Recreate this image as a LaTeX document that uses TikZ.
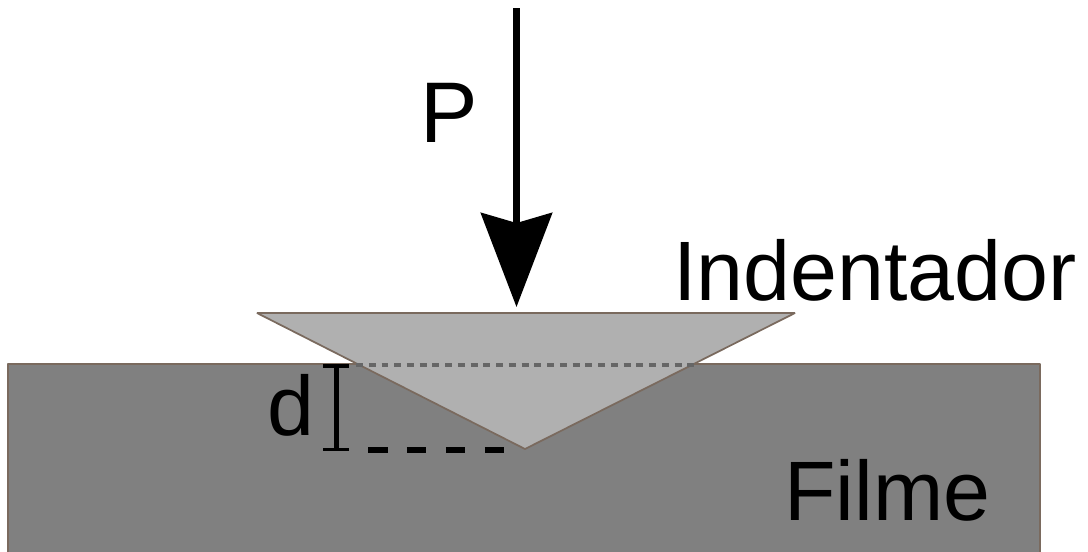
\documentclass[tikz,border=0pt]{standalone}
\usepackage{fontspec}
\setmainfont{Liberation Sans}
\usepackage{tikz}
\usetikzlibrary{arrows.meta,positioning,calc}
\definecolor{edgebrown}{HTML}{7A6A5E}

\begin{document}
\begin{tikzpicture}[
    x=0.02cm, y=-0.02cm,
    solid body/.style={draw=edgebrown, line width=0.035cm, line join=bevel},
    label text/.style={anchor=base west, inner sep=0pt, font=\fontsize{48}{52}\selectfont},
    load arrow/.style={-{Stealth[length=1.88cm, width=1.42cm, inset=0.2cm]}, line width=0.14cm},
    depth bar/.style={{Bar[width=0.52cm, line width=0.07cm]}-{Bar[width=0.52cm, line width=0.07cm]}, line width=0.1cm}
]
\useasboundingbox (0,0) rectangle (1088,551);

\coordinate (filmTL) at (8,364);
\coordinate (filmBR) at (1040,560);
\coordinate (tipLeft) at (257,313);
\coordinate (tipRight) at (795,313);
\coordinate (tipBottom) at (525,449);
\coordinate (surfL) at (356,364.5);
\coordinate (surfR) at (695,364.5);
\coordinate (loadTop) at (516.5,8);
\coordinate (loadEnd) at (516.5,307);
\coordinate (depthTop) at (336,364);
\coordinate (depthBot) at (336,451);
\coordinate (dashL) at (368,450);
\coordinate (dashR) at (504,450);

% film and indenter
\fill[black!50] (filmTL) rectangle (filmBR);
\draw[solid body] (filmTL |- filmBR) -- (filmTL) -- (filmTL -| filmBR) -- (filmBR);
\draw[solid body, fill=black!31] (tipLeft) -- (tipRight) -- (tipBottom) -- cycle;

\draw[black!60, line width=0.08cm, dash pattern=on 0.14cm off 0.115cm] (surfL) -- (surfR);
\draw[line width=0.12cm, dash pattern=on 0.39cm off 0.39cm] (dashL) -- (dashR);
\draw[depth bar] (depthTop) -- (depthBot);
\draw[load arrow] (loadTop) -- (loadEnd);

\node[label text, font=\fontsize{49}{52}\selectfont] (loadlabel) at (420,142) {P};
\node[label text] (indenter) at (673,300) {Indentador};
\node[label text] (depthlabel) at (267,435) {d};
\node[label text] (film) at (784,520) {Filme};
\end{tikzpicture}
\end{document}
